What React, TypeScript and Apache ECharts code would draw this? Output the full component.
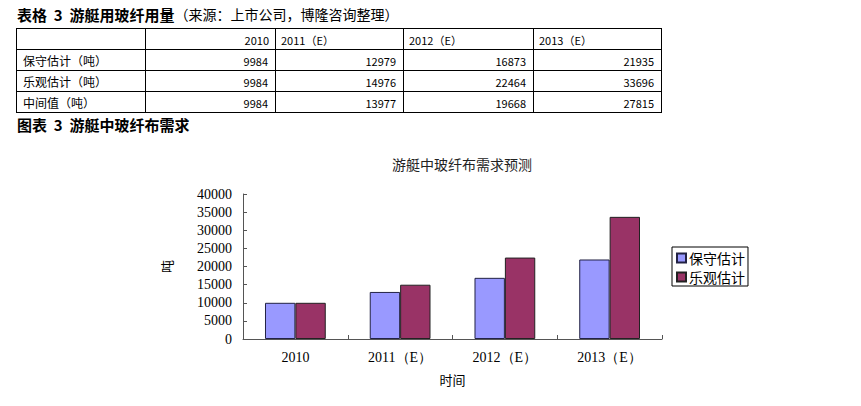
import React, { useEffect, useRef } from "react";
import * as echarts from "echarts";

const categories = ["2010", "2011（E）", "2012（E）", "2013（E）"];
const tableHeaders = ["2010", "2011（E）", "2012（E）", "2013（E）"];
const rowLabels = ["保守估计（吨）", "乐观估计（吨）", "中间值（吨）"];
const conservative = [9984, 12979, 16873, 21935];
const optimistic = [9984, 14976, 22464, 33696];
const median = [9984, 13977, 19668, 27815];
const seriesNames = ["保守估计", "乐观估计"];
const yTicks = { min: 0, max: 40000, interval: 5000 };

const colX = [16, 145, 275, 403, 533, 661];
const rowY = [28, 49, 70, 91, 112];

const CJK = '"Noto Sans CJK SC", "Noto Sans", sans-serif';
const SERIF = '"Liberation Serif", "DejaVu Serif", serif';

function buildTable(): any[] {
  const els: any[] = [];
  const rows = [conservative, optimistic, median];
  rowY.forEach((y) => {
    els.push({
      type: "line",
      shape: { x1: colX[0], y1: y + 0.5, x2: colX[colX.length - 1] + 1, y2: y + 0.5 },
      style: { stroke: "#000", lineWidth: 1 },
    });
  });
  colX.forEach((x) => {
    els.push({
      type: "line",
      shape: { x1: x + 0.5, y1: rowY[0], x2: x + 0.5, y2: rowY[rowY.length - 1] + 1 },
      style: { stroke: "#000", lineWidth: 1 },
    });
  });
  tableHeaders.forEach((h, i) => {
    const first = i === 0;
    els.push({
      type: "text",
      x: first ? colX[i + 2] - 6 : colX[i + 1] + 6,
      y: (rowY[0] + rowY[1]) / 2 + 1,
      style: {
        text: h,
        font: `11px ${CJK}`,
        fill: "#000",
        align: first ? "right" : "left",
        verticalAlign: "middle",
      },
    });
  });
  rows.forEach((vals, r) => {
    const cy = (rowY[r + 1] + rowY[r + 2]) / 2 + 1;
    els.push({
      type: "text",
      x: 23,
      y: cy,
      style: {
        text: rowLabels[r],
        font: `12px ${CJK}`,
        fill: "#000",
        align: "left",
        verticalAlign: "middle",
      },
    });
    vals.forEach((v, c) => {
      els.push({
        type: "text",
        x: colX[c + 2] - 7,
        y: cy,
        style: {
          text: String(v),
          font: `11px ${CJK}`,
          fill: "#000",
          align: "right",
          verticalAlign: "middle",
        },
      });
    });
  });
  return els;
}

export default function App() {
  const ref = useRef<HTMLDivElement>(null);
  useEffect(() => {
    if (!ref.current) return;
    const chart = echarts.init(ref.current, undefined, { renderer: "svg" });
    chart.setOption({
      animation: false,
      backgroundColor: "#fff",
      title: {
        text: "游艇中玻纤布需求预测",
        left: 457,
        top: 152,
        textAlign: "center",
        textStyle: { fontFamily: CJK, fontSize: 14, fontWeight: "normal", color: "#222" },
      },
      legend: {
        orient: "vertical",
        left: 672,
        top: 247,
        width: 80,
        padding: [4, 3, 2, 4],
        itemGap: 5,
        itemWidth: 9,
        itemHeight: 9,
        icon: "rect",
        borderColor: "#000",
        borderWidth: 1,
        textStyle: { fontFamily: CJK, fontSize: 14, lineHeight: 14, color: "#000", padding: [0, 0, 0, -2] },
        data: seriesNames,
      },
      grid: { left: 243, top: 194, width: 419, height: 145, containLabel: false },
      xAxis: {
        type: "category",
        data: categories,
        name: "时间",
        nameLocation: "middle",
        nameGap: 34,
        nameTextStyle: { fontFamily: CJK, fontSize: 13, color: "#000" },
        axisLine: { lineStyle: { color: "#555" } },
        axisTick: { show: true, inside: true, length: 4, alignWithLabel: false, lineStyle: { color: "#555" } },
        axisLabel: { fontFamily: SERIF, fontSize: 14, color: "#000", margin: 11 },
      },
      yAxis: {
        type: "value",
        min: yTicks.min,
        max: yTicks.max,
        interval: yTicks.interval,
        name: "吨",
        nameLocation: "middle",
        nameRotate: 90,
        nameGap: 70,
        nameTextStyle: { fontFamily: CJK, fontSize: 13, color: "#000" },
        axisLine: { show: true, lineStyle: { color: "#555" } },
        axisTick: { show: true, inside: true, length: 4, lineStyle: { color: "#555" } },
        splitLine: { show: false },
        axisLabel: {
          fontFamily: SERIF,
          fontSize: 14,
          color: "#000",
          margin: 11,
          formatter: (v: number) => String(v),
        },
      },
      series: [
        {
          name: seriesNames[0],
          type: "bar",
          data: conservative,
          barGap: "0%",
          barCategoryGap: "42%",
          itemStyle: { color: "#9999FF", borderColor: "#222244", borderWidth: 1 },
        },
        {
          name: seriesNames[1],
          type: "bar",
          data: optimistic,
          barGap: "0%",
          barCategoryGap: "42%",
          itemStyle: { color: "#993366", borderColor: "#222", borderWidth: 1 },
        },
      ],
      graphic: [
        {
          type: "text",
          x: 17,
          y: 14,
          style: {
            text: "{b|表格  3  游艇用玻纤用量}{n|（来源：上市公司，博隆咨询整理）}",
            verticalAlign: "middle",
            rich: {
              b: { font: `bold 15px ${CJK}`, fill: "#000" },
              n: { font: `14px ${CJK}`, fill: "#000" },
            },
          },
        },
        {
          type: "text",
          x: 17,
          y: 124,
          style: {
            text: "图表  3  游艇中玻纤布需求",
            font: `bold 15px ${CJK}`,
            fill: "#000",
            verticalAlign: "middle",
          },
        },
        ...buildTable(),
      ],
    });
    return () => chart.dispose();
  }, []);
  return (
    <div
      ref={ref}
      style={{ position: "absolute", left: 0, top: 0, width: 861, height: 406 }}
    />
  );
}
